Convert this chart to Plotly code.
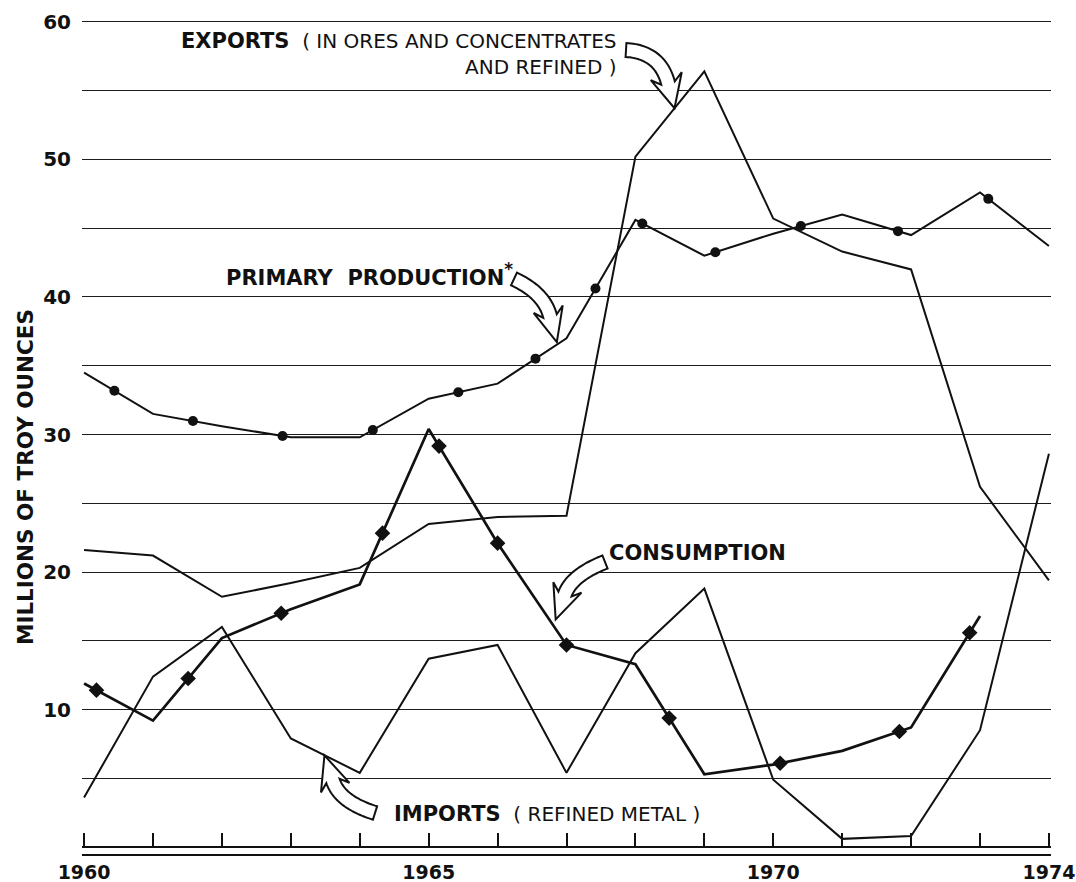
import numpy as np
import plotly.graph_objects as go

# ---- data (millions of troy ounces) ----
years = list(range(1960, 1975))
exports = [21.6, 21.2, 18.2, 19.2, 20.3, 23.5, 24.0, 24.1, 50.2, 56.4, 45.7, 43.3, 42.0, 26.2, 19.4]
primary_production = [34.5, 31.5, 30.6, 29.8, 29.8, 32.6, 33.7, 37.0, 45.6, 43.0, 44.6, 46.0, 44.5, 47.6, 43.7]
consumption = [11.9, 9.2, 15.2, 17.3, 19.1, 30.4, 22.1, 14.7, 13.3, 5.3, 6.0, 7.0, 8.7, 16.8, None]
imports = [3.6, 12.4, 16.0, 7.9, 5.4, 13.7, 14.7, 5.4, 14.1, 18.8, 4.9, 0.6, 0.8, 8.5, 28.6]

x_tick_years = [1960, 1965, 1970, 1974]
y_tick_values = [10, 20, 30, 40, 50, 60]

# decorative marker positions along the production / consumption lines
production_marker_years = [1960.44, 1961.58, 1962.88, 1964.19, 1965.43, 1966.55,
                           1967.42, 1968.10, 1969.16, 1970.40, 1971.81, 1973.12]
consumption_marker_years = [1960.18, 1961.51, 1962.86, 1964.33, 1965.15, 1966.0,
                            1967.0, 1968.49, 1970.10, 1971.83, 1972.85]

# ---- layout geometry ----
W, H = 1076, 882
M_L, M_R, M_T, M_B = 82, 25, 15, 28
X_RANGE = [1959.97, 1974.03]
Y_RANGE = [-0.5, 60.5]
PLOT_W = W - M_L - M_R
PLOT_H = H - M_T - M_B
PX_PER_YEAR = PLOT_W / (X_RANGE[1] - X_RANGE[0])
PX_PER_UNIT = PLOT_H / (Y_RANGE[1] - Y_RANGE[0])

FONT = "DejaVu Sans"
INK = "#111111"


def to_data(px, py):
    return (X_RANGE[0] + (px - M_L) / PX_PER_YEAR,
            Y_RANGE[1] - (py - M_T) / PX_PER_UNIT)


def block_arrow(p0, p1, p2, tip_len, shaft_w, head_w, sweep, n=32):
    """Hollow curved block arrow along a quadratic Bezier (pixel space)."""
    p0, p1, p2 = (np.array(p, float) for p in (p0, p1, p2))
    t = np.linspace(0, 1, n)[:, None]
    pts = (1 - t) ** 2 * p0 + 2 * (1 - t) * t * p1 + t ** 2 * p2
    tan = 2 * (1 - t) * (p1 - p0) + 2 * t * (p2 - p1)
    tan = tan / np.linalg.norm(tan, axis=1, keepdims=True)
    nor = np.column_stack([-tan[:, 1], tan[:, 0]])
    left = pts + nor * shaft_w / 2
    right = pts - nor * shaft_w / 2
    T, N = tan[-1], nor[-1]
    tip = p2 + T * tip_len
    barb_l = p2 + N * head_w / 2 - T * sweep
    barb_r = p2 - N * head_w / 2 - T * sweep
    outline = list(left) + [barb_l, tip, barb_r] + list(right[::-1])
    coords = [to_data(x, y) for x, y in outline]
    return "M " + " L ".join(f"{x:.4f},{y:.4f}" for x, y in coords) + " Z"


fig = go.Figure()

line_style = dict(color=INK, width=2)
fig.add_trace(go.Scatter(x=years, y=exports, mode="lines", line=line_style,
                         name="Exports", hoverinfo="skip"))
fig.add_trace(go.Scatter(x=years, y=imports, mode="lines", line=line_style,
                         name="Imports", hoverinfo="skip"))
fig.add_trace(go.Scatter(x=years, y=primary_production, mode="lines", line=line_style,
                         name="Primary production", hoverinfo="skip"))
fig.add_trace(go.Scatter(x=years, y=consumption, mode="lines",
                         line=dict(color=INK, width=2.7),
                         name="Consumption", hoverinfo="skip"))

prod_marker_y = np.interp(production_marker_years, years, primary_production)
fig.add_trace(go.Scatter(x=production_marker_years, y=prod_marker_y, mode="markers",
                         marker=dict(symbol="circle", size=10, color=INK),
                         name="Primary production markers", hoverinfo="skip"))

cons_years = [y for y, v in zip(years, consumption) if v is not None]
cons_vals = [v for v in consumption if v is not None]
cons_marker_y = np.interp(consumption_marker_years, cons_years, cons_vals)
fig.add_trace(go.Scatter(x=consumption_marker_years, y=cons_marker_y, mode="markers",
                         marker=dict(symbol="diamond", size=12, color=INK),
                         name="Consumption markers", hoverinfo="skip"))

# empty trace on the tick axis so the overlaid baseline axis is drawn
fig.add_trace(go.Scatter(x=[], y=[], xaxis="x2", showlegend=False, hoverinfo="skip"))

arrows = [
    block_arrow((626, 50), (660, 52), (668, 83), tip_len=26, shaft_w=14, head_w=32, sweep=7),
    block_arrow((514, 279), (544, 293), (550, 316), tip_len=27, shaft_w=14, head_w=30, sweep=7),
    block_arrow((605, 562), (572, 575), (565, 594), tip_len=27, shaft_w=14, head_w=30, sweep=7),
    block_arrow((375, 813), (340, 802), (333, 781), tip_len=27, shaft_w=14, head_w=30, sweep=7),
]
shapes = [dict(type="path", path=p, xref="x", yref="y", layer="above",
               fillcolor="white", line=dict(color=INK, width=2)) for p in arrows]

label_font = dict(family=FONT, size=20, color=INK)
B = '<span style="font-size:21px"><b>{}</b></span>'
annotations = [
    dict(text=B.format("EXPORTS") + "  ( IN ORES AND CONCENTRATES<br>AND REFINED )",
         x=to_data(619, 0)[0], y=to_data(0, 54)[1], xref="x", yref="y",
         xanchor="right", yanchor="middle", align="right", showarrow=False,
         font=label_font),
    dict(text=B.format("PRIMARY  PRODUCTION") + '<span style="font-size:24px"><b><sup>*</sup></b></span>',
         x=to_data(224, 0)[0], y=to_data(0, 274)[1], xref="x", yref="y",
         xanchor="left", yanchor="middle", showarrow=False, font=label_font),
    dict(text=B.format("CONSUMPTION"),
         x=to_data(607, 0)[0], y=to_data(0, 553)[1], xref="x", yref="y",
         xanchor="left", yanchor="middle", showarrow=False, font=label_font),
    dict(text=B.format("IMPORTS") + "  ( REFINED METAL )",
         x=to_data(392, 0)[0], y=to_data(0, 814)[1], xref="x", yref="y",
         xanchor="left", yanchor="middle", showarrow=False, font=label_font),
    dict(text="<b>MILLIONS OF TROY OUNCES</b>", textangle=-90,
         x=(25 - M_L) / PLOT_W, y=(M_T + PLOT_H - 477) / PLOT_H,
         xref="paper", yref="paper", xanchor="center", yanchor="middle",
         showarrow=False, font=dict(family=FONT, size=21.5, color=INK)),
]

fig.update_layout(
    width=W, height=H,
    margin=dict(l=M_L, r=M_R, t=M_T, b=M_B, pad=0, autoexpand=False),
    paper_bgcolor="white", plot_bgcolor="white",
    showlegend=False,
    shapes=shapes,
    annotations=annotations,
    xaxis=dict(range=X_RANGE, showgrid=False, zeroline=False, automargin=False,
               showline=True, linecolor=INK, linewidth=2.2,
               tickvals=x_tick_years, ticktext=[str(y) for y in x_tick_years],
               ticks="", ticklabelstandoff=0, ticklabeloverflow="allow",
               tickfont=dict(family=FONT, size=19, color=INK, weight="bold")),
    xaxis2=dict(range=X_RANGE, overlaying="x", anchor="free", automargin=False,
                position=(0 - Y_RANGE[0]) / (Y_RANGE[1] - Y_RANGE[0]),
                side="bottom", showgrid=False, zeroline=False,
                showline=True, linecolor=INK, linewidth=1.6,
                tickmode="linear", tick0=1960, dtick=1,
                ticks="inside", ticklen=13, tickwidth=1.6, tickcolor=INK,
                showticklabels=False),
    yaxis=dict(range=Y_RANGE, showgrid=True, gridcolor="#1c1c1c", gridwidth=1.3,
               zeroline=False, showline=False, automargin=False,
               tickvals=y_tick_values, ticktext=[str(v) for v in y_tick_values],
               ticks="", ticklabelstandoff=10,
               minor=dict(tick0=0, dtick=5, showgrid=True, gridcolor="#1c1c1c",
                          gridwidth=1.3, ticks=""),
               tickfont=dict(family=FONT, size=20, color=INK, weight="bold")),
)

fig.write_html("out.html")
